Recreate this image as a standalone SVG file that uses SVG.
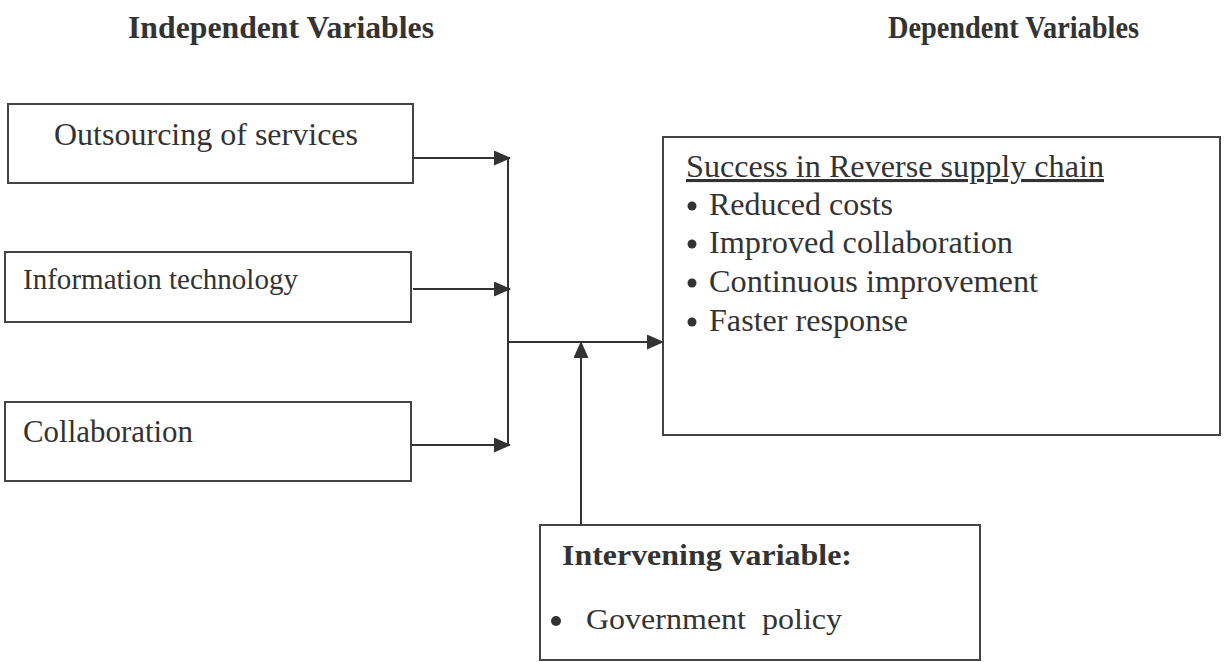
<svg xmlns="http://www.w3.org/2000/svg" width="1226" height="662" viewBox="0 0 1226 662">
<style>
text{font-family:"Liberation Serif","Times New Roman",serif;fill:#333;}
.b{font-weight:bold;}
.box{fill:none;stroke:#444;stroke-width:2;}
.ln{fill:none;stroke:#333;stroke-width:2;}
.dot{fill:#333;}
</style>
<defs>
<marker id="ah" markerWidth="17" markerHeight="15" refX="16" refY="7.5" orient="auto" markerUnits="userSpaceOnUse">
<path d="M0,0 L17,7.5 L0,15 Z" fill="#333"/>
</marker>
</defs>
<rect width="1226" height="662" fill="#fff"/>
<text class="b" x="128" y="38" font-size="31" textLength="306" lengthAdjust="spacingAndGlyphs">Independent Variables</text>
<text class="b" x="888" y="38" font-size="31" textLength="251" lengthAdjust="spacingAndGlyphs">Dependent Variables</text>
<g id="outsourcing">
<rect class="box" x="8" y="104" width="405" height="79"/>
<text x="54" y="145" font-size="32" textLength="304" lengthAdjust="spacingAndGlyphs">Outsourcing of services</text>
</g>
<g id="infotech">
<rect class="box" x="5" y="252" width="406" height="70"/>
<text x="23" y="289" font-size="29" textLength="275" lengthAdjust="spacingAndGlyphs">Information technology</text>
</g>
<g id="collaboration">
<rect class="box" x="5" y="402" width="406" height="79"/>
<text x="23" y="442" font-size="31" textLength="170" lengthAdjust="spacingAndGlyphs">Collaboration</text>
</g>
<g id="dependent">
<rect class="box" x="663" y="137" width="557" height="298"/>
<text x="686" y="177" font-size="31" textLength="418" lengthAdjust="spacingAndGlyphs" text-decoration="underline">Success in Reverse supply chain</text>
<circle class="dot" cx="692" cy="206" r="4.5"/>
<text x="709" y="215" font-size="31" textLength="184" lengthAdjust="spacingAndGlyphs">Reduced costs</text>
<circle class="dot" cx="692" cy="244" r="4.5"/>
<text x="709" y="253" font-size="31" textLength="304" lengthAdjust="spacingAndGlyphs">Improved collaboration</text>
<circle class="dot" cx="692" cy="283" r="4.5"/>
<text x="709" y="292" font-size="31" textLength="329" lengthAdjust="spacingAndGlyphs">Continuous improvement</text>
<circle class="dot" cx="692" cy="322" r="4.5"/>
<text x="709" y="331" font-size="31" textLength="199" lengthAdjust="spacingAndGlyphs">Faster response</text>
</g>
<g id="intervening">
<rect class="box" x="540" y="525" width="440" height="135"/>
<text class="b" x="562" y="565" font-size="29" textLength="290" lengthAdjust="spacingAndGlyphs">Intervening variable:</text>
<circle class="dot" cx="556" cy="621" r="5"/>
<text x="586" y="629" font-size="29" textLength="256" lengthAdjust="spacingAndGlyphs">Government&#160; policy</text>
</g>
<g id="connectors">
<line class="ln" x1="413" y1="158" x2="510" y2="158" marker-end="url(#ah)"/>
<line class="ln" x1="413" y1="289" x2="510" y2="289" marker-end="url(#ah)"/>
<line class="ln" x1="411" y1="445" x2="510" y2="445" marker-end="url(#ah)"/>
<line class="ln" x1="508" y1="158" x2="508" y2="445"/>
<line class="ln" x1="508" y1="342" x2="663" y2="342" marker-end="url(#ah)"/>
<line class="ln" x1="581" y1="525" x2="581" y2="342" marker-end="url(#ah)"/>
</g>
</svg>
